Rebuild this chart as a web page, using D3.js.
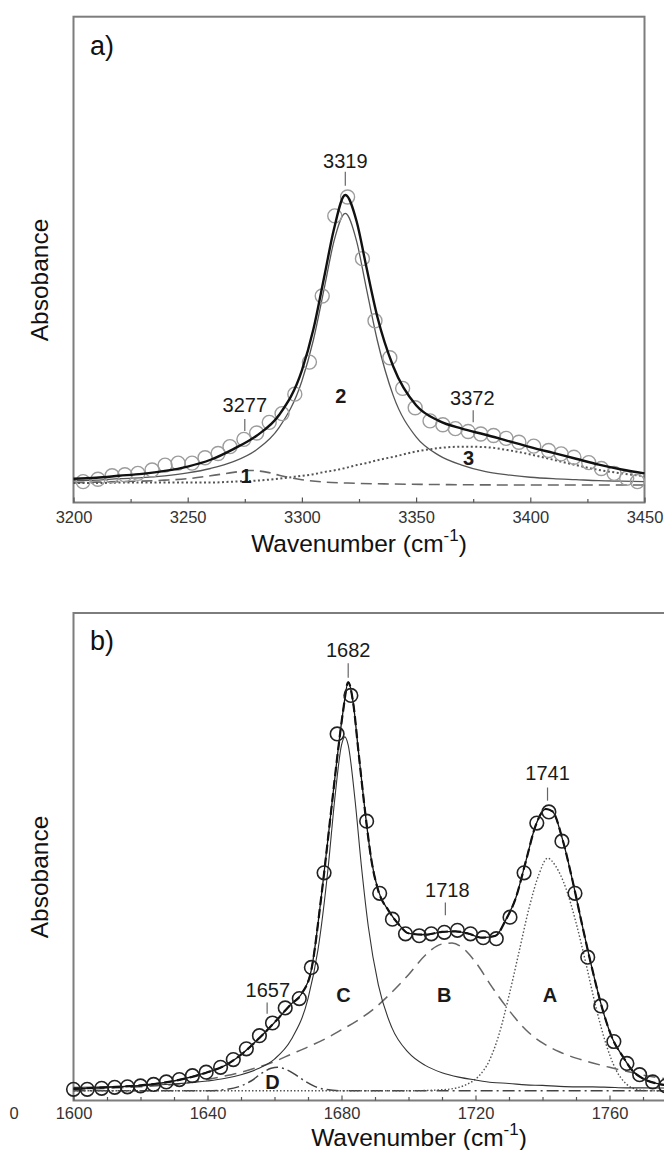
<!DOCTYPE html>
<html>
<head>
<meta charset="utf-8">
<script src="https://cdn.jsdelivr.net/npm/d3@7"></script>
<style>
  html, body { margin: 0; padding: 0; background: #fff; }
  svg { display: block; font-family: "Liberation Sans", Arial, sans-serif; }
</style>
</head>
<body>
<svg id="chart" width="664" height="1150"></svg>
<script>
// ---- panel a) N-H stretch region ----
const xTicksA = [3200, 3250, 3300, 3350, 3400, 3450];
const xMinorA = [3225, 3275, 3325, 3375, 3425];

const gridA = [3200, 3210, 3220, 3230, 3240, 3250, 3260, 3270, 3280, 3290, 3300, 3305, 3310, 3314, 3319,
               3324, 3328, 3333, 3340, 3350, 3360, 3370, 3380, 3390, 3400, 3410, 3420, 3430, 3440, 3450];
const fitA   = [0.049, 0.051, 0.055, 0.059, 0.065, 0.074, 0.088, 0.110, 0.137, 0.180, 0.272, 0.356, 0.470, 0.562, 0.633,
                0.578, 0.490, 0.383, 0.280, 0.200, 0.168, 0.152, 0.140, 0.127, 0.114, 0.102, 0.090, 0.078, 0.068, 0.060];
const band2A = [0.045, 0.046, 0.049, 0.051, 0.055, 0.061, 0.070, 0.084, 0.108, 0.154, 0.250, 0.334, 0.446, 0.537, 0.595,
                0.537, 0.446, 0.334, 0.220, 0.135, 0.097, 0.077, 0.064, 0.057, 0.052, 0.049, 0.047, 0.045, 0.044, 0.043];
const band3A = [0.040, 0.040, 0.041, 0.041, 0.041, 0.041, 0.041, 0.043, 0.045, 0.049, 0.055, 0.058, 0.063, 0.066, 0.071,
                0.077, 0.081, 0.087, 0.094, 0.105, 0.112, 0.115, 0.114, 0.108, 0.099, 0.088, 0.077, 0.067, 0.060, 0.054];
const band1X = [3200, 3210, 3220, 3230, 3240, 3250, 3260, 3270, 3277, 3285, 3290, 3300, 3310, 3320, 3340, 3360, 3400, 3450];
const band1A = [0.041, 0.042, 0.043, 0.044, 0.046, 0.049, 0.055, 0.062, 0.066, 0.062, 0.056, 0.047, 0.042, 0.040, 0.038, 0.037, 0.036, 0.036];

const obsXA = [3204.2, 3210.7, 3216.9, 3222.5, 3228.2, 3234.4, 3240.1, 3245.8, 3251.9, 3257.6, 3263.3, 3268.5,
               3274.6, 3280.2, 3285.7, 3291.3, 3296.9, 3303.3, 3308.9, 3314.4, 3320.0, 3326.5, 3332.0, 3338.5,
               3344.1, 3349.6, 3356.1, 3361.7, 3367.2, 3372.8, 3378.3, 3383.9, 3389.4, 3395.0, 3401.5, 3408.0,
               3413.5, 3419.1, 3425.6, 3431.1, 3436.7, 3442.2, 3446.9];
const obsYA = [0.043, 0.048, 0.055, 0.057, 0.060, 0.067, 0.077, 0.081, 0.081, 0.092, 0.101, 0.115,
               0.130, 0.143, 0.165, 0.183, 0.223, 0.289, 0.425, 0.590, 0.629, 0.502, 0.374, 0.298,
               0.235, 0.195, 0.168, 0.160, 0.152, 0.146, 0.141, 0.138, 0.132, 0.124, 0.116, 0.107,
               0.100, 0.093, 0.082, 0.070, 0.060, 0.050, 0.043];

const peakTextA = ["3319", "3277", "3372"];
const peakXA    = [3319, 3275, 3374.6];
const peakYA    = [0.703, 0.201, 0.216];
const peakTickXA  = [3319, 3275, 3375];
const peakTickY0A = [0.652, 0.147, 0.165];
const peakTickY1A = [0.681, 0.172, 0.190];
const bandTextA = ["1", "2", "3"];
const bandXA    = [3275.5, 3317, 3373];
const bandYA    = [0.055, 0.220, 0.092];

// ---- panel b) C=O stretch region ----
const xTicksB = [1600, 1640, 1680, 1720, 1760];
const xMinorB = [1610, 1620, 1630, 1650, 1660, 1670, 1690, 1700, 1710, 1730, 1740, 1750, 1770];

const fitXB = [1600, 1610, 1620, 1630, 1640, 1645, 1650, 1655, 1660, 1665, 1668, 1671, 1674, 1677, 1679, 1680.5,
               1682, 1683.5, 1685, 1687, 1689, 1691, 1694, 1697, 1700, 1705, 1710, 1714, 1718, 1722, 1726, 1729,
               1732, 1735, 1738, 1741, 1743, 1746, 1749, 1752, 1755, 1758, 1761, 1764, 1767, 1770, 1774, 1780];
const fitB  = [0.024, 0.027, 0.031, 0.040, 0.058, 0.071, 0.094, 0.125, 0.160, 0.198, 0.218, 0.268, 0.420, 0.600, 0.720, 0.800,
               0.858, 0.815, 0.720, 0.595, 0.490, 0.430, 0.390, 0.362, 0.343, 0.340, 0.346, 0.347, 0.342, 0.334, 0.338, 0.370,
               0.415, 0.490, 0.565, 0.598, 0.593, 0.535, 0.450, 0.355, 0.265, 0.185, 0.125, 0.090, 0.060, 0.045, 0.035, 0.030];

const bandCX = [1600, 1610, 1620, 1630, 1640, 1645, 1650, 1655, 1660, 1665, 1670, 1673, 1676, 1678, 1680, 1681, 1682, 1684, 1686,
                1688, 1691, 1695, 1700, 1705, 1710, 1715, 1720, 1725, 1730, 1735, 1740, 1745, 1750, 1755, 1760, 1765, 1770, 1780];
const bandC  = [0.027, 0.028, 0.030, 0.034, 0.040, 0.045, 0.053, 0.065, 0.085, 0.125, 0.209, 0.310, 0.477, 0.619, 0.729, 0.746, 0.729, 0.619, 0.477,
                0.357, 0.237, 0.150, 0.098, 0.072, 0.057, 0.048, 0.042, 0.037, 0.035, 0.032, 0.031, 0.029, 0.028, 0.028, 0.027, 0.026, 0.026, 0.025];
const bandBX = [1600, 1610, 1620, 1630, 1640, 1645, 1650, 1655, 1660, 1665, 1670, 1675, 1680, 1685, 1690, 1695, 1700,
                1705, 1710, 1713, 1716, 1720, 1725, 1730, 1735, 1740, 1745, 1750, 1755, 1760, 1765, 1770, 1780];
const bandB  = [0.022, 0.025, 0.028, 0.033, 0.043, 0.050, 0.058, 0.068, 0.080, 0.095, 0.110, 0.126, 0.145, 0.165, 0.190, 0.222, 0.258,
                0.298, 0.321, 0.323, 0.314, 0.284, 0.232, 0.185, 0.145, 0.118, 0.100, 0.087, 0.077, 0.068, 0.060, 0.052, 0.042];
const bandAX = [1600, 1700, 1710, 1715, 1718, 1721, 1724, 1727, 1730, 1733, 1736, 1739, 1741.5, 1744, 1747, 1750,
                1753, 1756, 1759, 1762, 1765, 1768, 1772, 1780];
const bandA  = [0.020, 0.020, 0.022, 0.027, 0.035, 0.050, 0.080, 0.135, 0.215, 0.305, 0.395, 0.465, 0.497, 0.480, 0.435, 0.365,
                0.280, 0.190, 0.115, 0.062, 0.034, 0.023, 0.020, 0.020];
const bandDX = [1600, 1640, 1645, 1650, 1653, 1656, 1659, 1661, 1663, 1666, 1669, 1672, 1675, 1680, 1780];
const bandD  = [0.020, 0.020, 0.022, 0.030, 0.040, 0.055, 0.066, 0.068, 0.065, 0.054, 0.040, 0.029, 0.023, 0.020, 0.020];

const obsXB = [1600.0, 1604.1, 1608.4, 1612.3, 1616.1, 1620.0, 1623.9, 1627.7, 1631.6, 1635.5, 1639.6, 1643.9,
               1647.7, 1651.6, 1655.5, 1659.4, 1663.2, 1667.4, 1671.0, 1674.8, 1678.7, 1682.8, 1687.5, 1691.4,
               1695.2, 1699.1, 1703.2, 1706.8, 1710.7, 1714.6, 1718.5, 1722.3, 1726.2, 1730.3, 1734.5, 1738.3,
               1741.9, 1745.8, 1749.7, 1753.5, 1757.4, 1761.3, 1765.2, 1769.0, 1772.9, 1776.8];
const obsYB = [0.023, 0.023, 0.025, 0.027, 0.028, 0.030, 0.033, 0.038, 0.043, 0.051, 0.058, 0.068,
               0.084, 0.106, 0.133, 0.159, 0.190, 0.209, 0.273, 0.467, 0.752, 0.831, 0.573, 0.425,
               0.372, 0.342, 0.338, 0.342, 0.345, 0.349, 0.342, 0.334, 0.332, 0.376, 0.467, 0.569,
               0.592, 0.532, 0.425, 0.294, 0.194, 0.121, 0.076, 0.053, 0.038, 0.030];

const peakTextB = ["1682", "1718", "1741", "1657"];
const peakXB    = [1682, 1711.6, 1741.5, 1658];
const peakYB    = [0.924, 0.433, 0.672, 0.228];
const peakTickXB  = [1682, 1711, 1741.5, 1657.8];
const peakTickY0B = [0.867, 0.380, 0.615, 0.178];
const peakTickY1B = [0.897, 0.406, 0.642, 0.201];
const bandTextB = ["C", "B", "A", "D"];
const bandXB    = [1680.6, 1710.7, 1742.2, 1659.4];
const bandYB    = [0.216, 0.216, 0.216, 0.038];

// ---- drawing ----
const svg = d3.select("#chart");
const zip = (xs, ys) => xs.map((v, i) => [v, ys[i]]);
const FRAME = "#7d7d7d";

const xA = d3.scaleLinear().domain([3200, 3450]).range([73.5, 644.5]);
const yA = d3.scaleLinear().domain([0, 1]).range([502.5, 16.7]);
const xB = d3.scaleLinear().domain([1600, 1780]).range([73.5, 676.5]);
const yB = d3.scaleLinear().domain([0, 1]).range([1100.5, 613]);

function curve(g, x, y, pts, stroke, width, dash) {
  const line = d3.line().x(d => x(d[0])).y(d => y(d[1])).curve(d3.curveMonotoneX);
  g.append("path")
    .datum(pts)
    .attr("d", line)
    .attr("fill", "none")
    .attr("stroke", stroke)
    .attr("stroke-width", width)
    .attr("stroke-dasharray", dash || null)
    .attr("stroke-linecap", "butt");
}

function axis(g, x, y, majors, minors, pad) {
  g.append("g")
    .attr("transform", `translate(0,${y(0)})`)
    .call(d3.axisBottom(x).tickValues(majors).tickSize(-5).tickPadding(pad).tickFormat(d3.format("d")))
    .call(a => a.select(".domain").remove())
    .attr("font-size", 16.5)
    .attr("font-family", null)
    .call(a => a.selectAll("line").attr("stroke", "#555").attr("stroke-width", 1.2))
    .call(a => a.selectAll("text").attr("fill", "#333"));
  g.append("g")
    .attr("transform", `translate(0,${y(0)})`)
    .call(d3.axisBottom(x).tickValues(minors).tickSize(-3.5).tickFormat(""))
    .call(a => a.select(".domain").remove())
    .call(a => a.selectAll("line").attr("stroke", "#555").attr("stroke-width", 1.2));
}

function labels(g, x, y, texts, xs, ys, size, weight) {
  g.append("g").selectAll("text")
    .data(texts)
    .join("text")
    .attr("x", (d, i) => x(xs[i]))
    .attr("y", (d, i) => y(ys[i]))
    .attr("dy", "0.36em")
    .attr("text-anchor", "middle")
    .attr("font-size", size)
    .attr("font-weight", weight)
    .attr("fill", "#1a1a1a")
    .text(d => d);
}

function leaders(g, x, y, xs, y0s, y1s) {
  g.append("g").selectAll("line")
    .data(xs)
    .join("line")
    .attr("x1", d => x(d)).attr("x2", d => x(d))
    .attr("y1", (d, i) => y(y0s[i])).attr("y2", (d, i) => y(y1s[i]))
    .attr("stroke", "#666")
    .attr("stroke-width", 1.2);
}

function yTitle(g, cx, cy) {
  g.append("text")
    .attr("transform", `translate(${cx},${cy}) rotate(-90)`)
    .attr("text-anchor", "middle")
    .attr("font-size", 24.5)
    .attr("fill", "#111")
    .text("Absobance");
}

function xTitle(g, cx, baseY) {
  const t = g.append("text")
    .attr("x", cx).attr("y", baseY)
    .attr("text-anchor", "middle")
    .attr("font-size", 24.5)
    .attr("fill", "#111");
  t.append("tspan").text("Wavenumber (cm");
  t.append("tspan").attr("font-size", 17).attr("dy", -11).text("-1");
  t.append("tspan").attr("dy", 11).text(")");
}

// panel a
const gA = svg.append("g");
gA.append("rect")
  .attr("x", xA(3200)).attr("y", yA(1))
  .attr("width", xA(3450) - xA(3200)).attr("height", yA(0) - yA(1))
  .attr("fill", "none").attr("stroke", FRAME).attr("stroke-width", 2);
axis(gA, xA, yA, xTicksA, xMinorA, 9);

curve(gA, xA, yA, zip(band1X, band1A), "#666", 1.6, "11,6");
curve(gA, xA, yA, zip(gridA, band3A), "#555", 2, "2,2.5");
curve(gA, xA, yA, zip(gridA, band2A), "#555", 1.3);
gA.append("g").selectAll("circle")
  .data(zip(obsXA, obsYA))
  .join("circle")
  .attr("cx", d => xA(d[0])).attr("cy", d => yA(d[1]))
  .attr("r", 7)
  .attr("fill", "none").attr("stroke", "#9c9c9c").attr("stroke-width", 1.4);
curve(gA, xA, yA, zip(gridA, fitA), "#111", 2.4);

leaders(gA, xA, yA, peakTickXA, peakTickY0A, peakTickY1A);
labels(gA, xA, yA, peakTextA, peakXA, peakYA, 20, "normal");
labels(gA, xA, yA, bandTextA, bandXA, bandYA, 20, "bold");
gA.append("text").attr("x", 90).attr("y", 55).attr("font-size", 27).attr("fill", "#111").text("a)");
yTitle(gA, 48, 280);
xTitle(gA, 359, 552);

// panel b
const gB = svg.append("g");
const bL = xB(1600), bR = xB(1780), bT = yB(1), bBot = yB(0);
gB.append("path")
  .attr("d", `M${bR},${bT}H${bL}V${bBot}H${bR}`)
  .attr("fill", "none").attr("stroke", FRAME).attr("stroke-width", 2);
axis(gB, xB, yB, xTicksB, xMinorB, 7);

curve(gB, xB, yB, zip(bandDX, bandD), "#444", 1.5, "12,4,2,4");
curve(gB, xB, yB, zip(bandAX, bandA), "#555", 1.4, "1.5,2");
curve(gB, xB, yB, zip(bandBX, bandB), "#666", 1.5, "12,7");
curve(gB, xB, yB, zip(bandCX, bandC), "#333", 1.1);
curve(gB, xB, yB, zip(fitXB, fitB), "#111", 1.3);
curve(gB, xB, yB, zip(fitXB, fitB), "#111", 2.2, "9,4");
gB.append("g").selectAll("circle")
  .data(zip(obsXB, obsYB))
  .join("circle")
  .attr("cx", d => xB(d[0])).attr("cy", d => yB(d[1]))
  .attr("r", 6.8)
  .attr("fill", "none").attr("stroke", "#222").attr("stroke-width", 1.6);

leaders(gB, xB, yB, peakTickXB, peakTickY0B, peakTickY1B);
labels(gB, xB, yB, peakTextB, peakXB, peakYB, 20, "normal");
labels(gB, xB, yB, bandTextB, bandXB, bandYB, 20, "bold");
gB.append("text").attr("x", 90).attr("y", 650).attr("font-size", 27).attr("fill", "#111").text("b)");
gB.append("text").attr("x", 14).attr("y", 1113).attr("dy", "0.36em").attr("text-anchor", "middle")
  .attr("font-size", 16.5).attr("fill", "#333").text("0");
yTitle(gB, 48, 877);
xTitle(gB, 419, 1146);
</script>
</body>
</html>
